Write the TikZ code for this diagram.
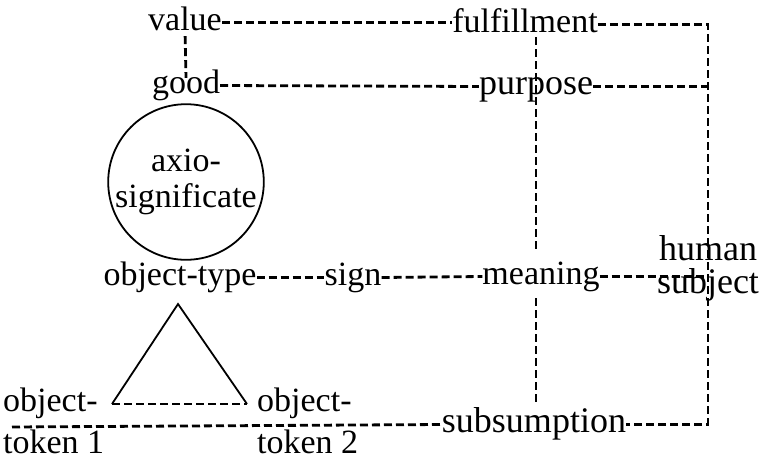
\documentclass[tikz,border=0pt]{standalone}
\usepackage{fontspec}
\setmainfont{Liberation Serif}
\begin{document}
\begin{tikzpicture}[x=1pt,y=-1pt,
  lbl/.style={inner sep=0pt, text height=15pt, text depth=0pt, anchor=base,
    font=\fontsize{34}{34}\selectfont},
  big/.style={font=\fontsize{36}{36}\selectfont},
  twoline/.style={inner sep=0pt, align=#1, anchor=base},
  link/.style={line width=2.8pt, dash pattern=on 8pt off 4pt},
  edge/.style={line width=1.8pt}]
\useasboundingbox (0,0) rectangle (764,458);

% labels
\node[lbl] (value) at (185,30) {value};
\node[lbl] (fulfil) at (525,32) {fulfillment};
\node[lbl] (good) at (186,93) {good};
\node[lbl,big] (purpose) at (536,94) {purpose};
\node[circle, draw, edge, minimum size=152pt, inner sep=0pt, align=center,
  font=\fontsize{34}{36}\selectfont] (axio) at (186,182) {axio-\\significate};
\node[lbl] (otype) at (180,285) {object-type};
\node[lbl] (sign) at (353,285) {sign};
\node[lbl] (meaning) at (541,284) {meaning};
% multi-line labels are placed by the baseline of their last line
\node[twoline=center, font=\fontsize{36}{33}\selectfont] (human) at (708,293) {human\\subject};
\node[twoline=left, anchor=base west, font=\fontsize{34}{42}\selectfont] (tok1) at (3,453) {object-\\token 1};
\node[twoline=left, anchor=base west, font=\fontsize{34}{42}\selectfont] (tok2) at (257,453) {object-\\token 2};
\node[lbl,big] (subs) at (534,432) {subsumption};

% free ends of the frame and of the triangle
\coordinate (tr) at (fulfil.east -| human.center);
\coordinate (br) at (subs.east -| human.center);
\coordinate (bl) at (12,427);
\coordinate (apex) at (178,304);
\coordinate (c1) at (112,404);
\coordinate (c2) at (247,404);

% dashed links
\draw[link] (value.east) -- (value.east -| fulfil.west);
\draw[link, shorten <=6pt] (value.south) -- (good.north);
\draw[link] (good.east) -- (purpose.west);
\draw[link] (fulfil.east) -- (tr) -- (br) -- (subs.east);
\draw[link] (purpose.east) -- (purpose.east -| human.center);
\draw[link, shorten <=5pt, shorten >=16pt] (purpose.center |- fulfil.south) -- (purpose.center |- meaning.north);
\draw[link, shorten <=14pt, shorten >=14pt] (purpose.center |- meaning.south) -- (purpose.center |- subs.north);
\draw[link] (otype.east) -- (sign.west);
\draw[link] (sign.east) -- (meaning.west);
\draw[link] (meaning.east) -- (meaning.east -| human.center);
\draw[link] (bl) -- (subs.west);

% type-token triangle
\draw[edge] (c1) -- (apex) -- (c2);
\draw[link, line width=2.2pt] (c1) -- (c2);
\end{tikzpicture}
\end{document}
